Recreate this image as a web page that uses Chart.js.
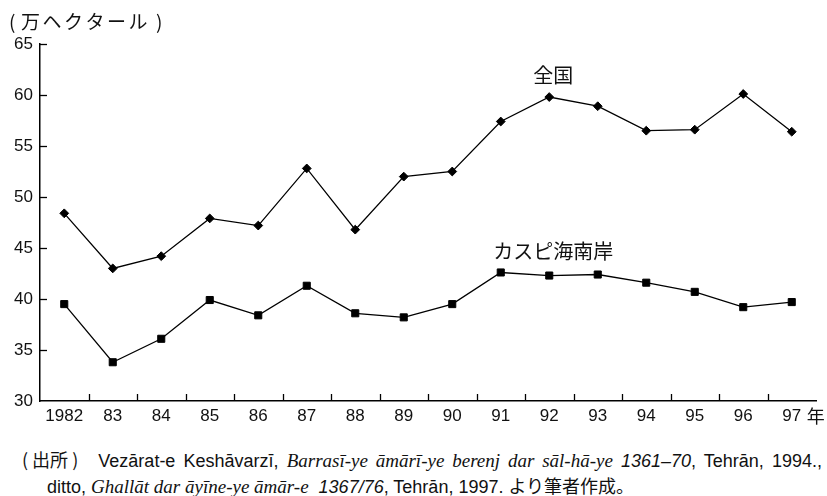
<!DOCTYPE html>
<html>
<head>
<meta charset="utf-8">
<script src="https://cdn.jsdelivr.net/npm/chart.js@4/dist/chart.umd.min.js"></script>
<style>
  html, body { margin: 0; padding: 0; background: #fff; }
  #wrap { position: relative; width: 827px; height: 496px; overflow: hidden; }
  #c { position: absolute; left: 0; top: 0; }
  .fn { position: absolute; white-space: nowrap; font-family: "Liberation Sans", Arial, sans-serif; font-size: 18px; line-height: 20px; color: #111; }
  .jp { font-family: "Noto Sans CJK JP", sans-serif; font-size: 18px; }
  .src { font-family: "Noto Sans CJK JP", sans-serif; font-size: 18px; margin-right: 12px; display: inline-block; }
  .ser { font-family: "Liberation Serif", serif; font-style: italic; font-size: 19px; }
  .isans { font-style: italic; }
  #fn1 { width: 800px; text-align: justify; text-align-last: justify; text-justify: inter-word; white-space: normal; }
</style>
</head>
<body>
<div id="wrap">
  <canvas id="c" width="827" height="430"></canvas>
  <div class="fn" id="fn1" style="left:22px; top:449px;"><span class="src">(&nbsp;出所&nbsp;)</span> Vezārat-e Keshāvarzī, <span class="ser">Barrasī-ye āmārī-ye berenj dar sāl-hā-ye</span> <span class="isans">1361–70</span>, Tehrān, 1994.,</div>
  <div class="fn" id="fn2" style="left:47px; top:475px;">ditto, <span class="ser">Ghallāt dar āyīne-ye āmār-e</span>&nbsp; <span class="isans">1367/76</span>, Tehrān, 1997. <span class="jp">より筆者作成。</span></div>
</div>
<script>
const categories = ['1982','83','84','85','86','87','88','89','90','91','92','93','94','95','96','97'];
const nationalValues = [48.4, 43.0, 44.2, 47.9, 47.2, 52.8, 46.8, 52.0, 52.5, 57.4, 59.8, 58.9, 56.5, 56.6, 60.1, 56.4];
const caspianValues  = [39.5, 33.8, 36.1, 39.9, 38.4, 41.3, 38.6, 38.2, 39.5, 42.6, 42.3, 42.4, 41.6, 40.7, 39.2, 39.7];
const yTickValues = [30, 35, 40, 45, 50, 55, 60, 65];
const seriesNames = ['全国', 'カスピ海南岸'];
const unitLabel = '万ヘクタール';
const yearSuffix = '年';
const labelAnchors = [ {index: 10, value: 61.9}, {index: 10, value: 44.7} ];

const decor = {
  id: 'decor',
  afterDraw(chart) {
    const ctx = chart.ctx;
    const x = chart.scales.x, y = chart.scales.y;
    const a = chart.chartArea;
    ctx.save();
    ctx.strokeStyle = '#000';
    ctx.lineWidth = 1.3;
    for (let i = 1; i < categories.length; i++) {
      const px = Math.round((x.getPixelForTick(i - 1) + x.getPixelForTick(i)) / 2) + 0.5;
      ctx.beginPath();
      ctx.moveTo(px, a.bottom);
      ctx.lineTo(px, a.bottom - 7);
      ctx.stroke();
    }
    yTickValues.forEach(v => {
      if (v === y.min) return;
      const py = Math.round(y.getPixelForValue(v)) + 0.5;
      ctx.beginPath();
      ctx.moveTo(a.left, py);
      ctx.lineTo(a.left + 7, py);
      ctx.stroke();
    });
    // unit label
    ctx.fillStyle = '#111';
    ctx.textBaseline = 'middle';
    ctx.textAlign = 'left';
    ctx.font = '19px "Noto Sans CJK JP"';
    ctx.fillText('(', 9, 22);
    ctx.fillText(')', 156, 22);
    try { ctx.letterSpacing = '2.5px'; } catch (e) {}
    ctx.fillText(unitLabel, 21, 22);
    try { ctx.letterSpacing = '0px'; } catch (e) {}
    // year suffix
    ctx.font = '18px "Noto Sans CJK JP"';
    ctx.textAlign = 'center';
    ctx.fillText(yearSuffix, x.getPixelForTick(categories.length - 1) + 24, 416);
    // series labels
    ctx.font = '20px "Noto Sans CJK JP"';
    seriesNames.forEach((n, i) => {
      const an = labelAnchors[i];
      ctx.fillText(n, x.getPixelForTick(an.index) + 4, y.getPixelForValue(an.value));
    });
    ctx.restore();
  }
};

new Chart(document.getElementById('c'), {
  type: 'line',
  data: {
    labels: categories,
    datasets: [
      { label: seriesNames[0], data: nationalValues, borderColor: '#000', borderWidth: 1.3,
        pointStyle: 'rectRot', pointRadius: 4.4, pointBackgroundColor: '#000', pointBorderColor: '#000', pointBorderWidth: 1, tension: 0 },
      { label: seriesNames[1], data: caspianValues, borderColor: '#000', borderWidth: 1.3,
        pointStyle: 'rect', pointRadius: 5, pointBackgroundColor: '#000', pointBorderColor: '#000', pointBorderWidth: 1, tension: 0 }
    ]
  },
  options: {
    responsive: false,
    animation: false,
    events: [],
    layout: { padding: { top: 44, right: 11, left: 0, bottom: 0 } },
    plugins: { legend: { display: false }, tooltip: { enabled: false } },
    scales: {
      x: {
        type: 'category',
        offset: true,
        grid: { display: false, drawTicks: false },
        border: { display: true, color: '#000', width: 1.5 },
        ticks: { color: '#111', padding: 5, maxRotation: 0, autoSkip: false,
                 font: { family: '"Liberation Sans", Arial, sans-serif', size: 17 } },
        afterFit(s) { s.height = 29; }
      },
      y: {
        min: 30, max: 65,
        afterBuildTicks(s) { s.ticks = yTickValues.map(v => ({ value: v })); },
        grid: { display: false, drawTicks: false },
        border: { display: true, color: '#000', width: 1.5 },
        ticks: { color: '#111', padding: 7,
                 font: { family: '"Liberation Sans", Arial, sans-serif', size: 17 } },
        afterFit(s) { s.width = 40; }
      }
    }
  },
  plugins: [decor]
});
</script>
</body>
</html>
